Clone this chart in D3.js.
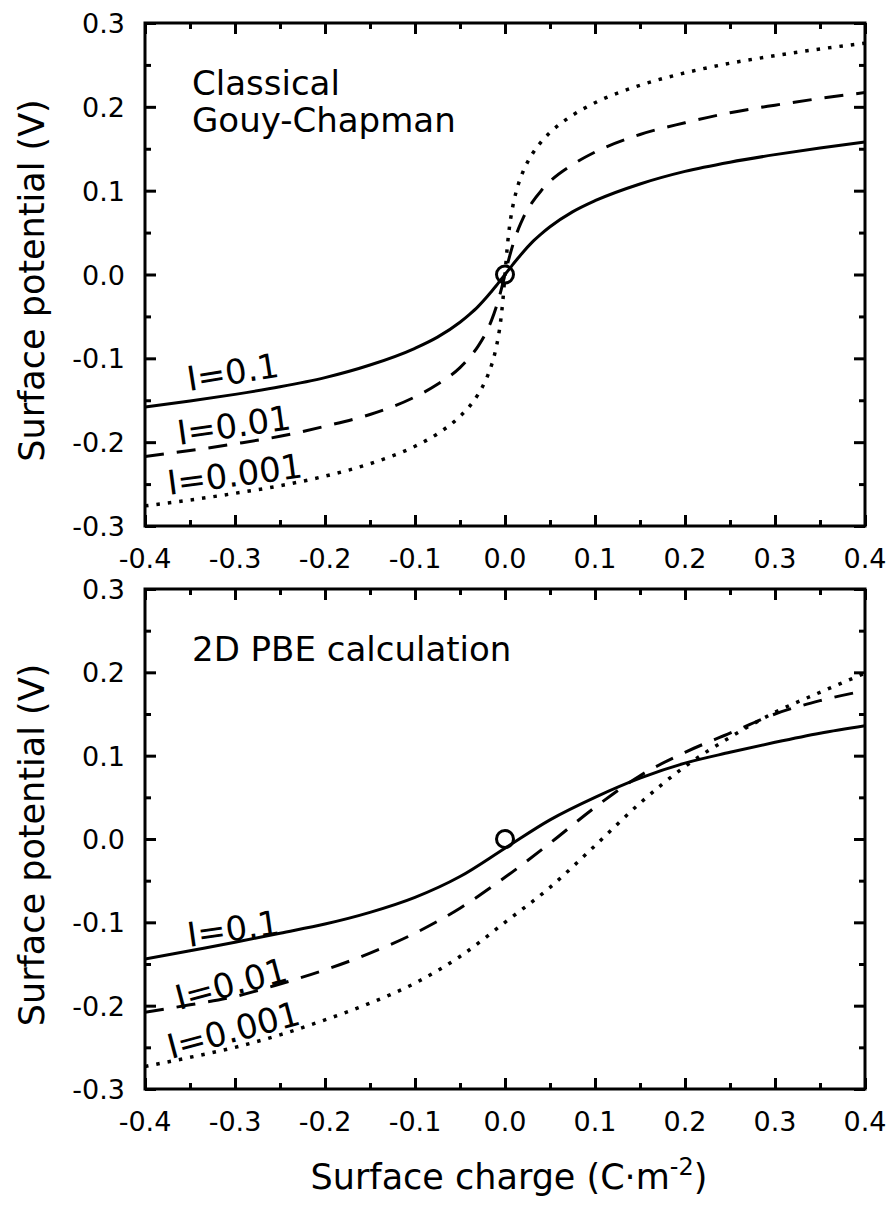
<!DOCTYPE html>
<html><head><meta charset="utf-8">
<script src="https://cdn.jsdelivr.net/npm/d3@7"></script>
<style>body{margin:0;background:#fff}svg{display:block}text{font-family:"DejaVu Sans",sans-serif;fill:#000}</style>
</head><body><svg id="c" width="889" height="1207"></svg>
<script>
// ---- data ----
const xTicks = [-0.4,-0.3,-0.2,-0.1,0.0,0.1,0.2,0.3,0.4];
const yTicks = [-0.3,-0.2,-0.1,0.0,0.1,0.2,0.3];
const seriesNames = ["I=0.1","I=0.01","I=0.001"];
// Top panel: classical Gouy-Chapman
const chargeTop = [-0.4,-0.35,-0.3,-0.25,-0.2,-0.15,-0.1,-0.075,-0.05,-0.04,-0.03,-0.02,-0.015,-0.01,-0.0075,-0.005,-0.0025,0,
  0.0025,0.005,0.0075,0.01,0.015,0.02,0.03,0.04,0.05,0.075,0.1,0.15,0.2,0.25,0.3,0.35,0.4];
const topI01 = [-0.158,-0.151,-0.143,-0.134,-0.123,-0.108,-0.088,-0.0747,-0.0569,-0.0481,-0.0383,-0.0266,-0.0202,-0.0137,-0.0103,-0.0069,-0.0035,0,
  0.0035,0.0069,0.0103,0.0137,0.0202,0.0266,0.0383,0.0481,0.0569,0.0747,0.088,0.108,0.123,0.134,0.143,0.151,0.158];
const topI001 = [-0.217,-0.210,-0.202,-0.193,-0.181,-0.167,-0.146,-0.131,-0.111,-0.0997,-0.0857,-0.0670,-0.0547,-0.0397,-0.0309,-0.0213,-0.0109,0,
  0.0109,0.0213,0.0309,0.0397,0.0547,0.0670,0.0857,0.0997,0.111,0.131,0.146,0.167,0.181,0.193,0.202,0.210,0.217];
const topI0001 = [-0.276,-0.269,-0.261,-0.252,-0.2405,-0.2257,-0.2049,-0.190,-0.1693,-0.158,-0.1432,-0.1226,-0.1082,-0.0882,-0.0747,-0.0569,-0.0324,0,
  0.0324,0.0569,0.0747,0.0882,0.1082,0.1226,0.1432,0.158,0.1693,0.190,0.2049,0.2257,0.2405,0.252,0.261,0.269,0.276];
// Bottom panel: 2D PBE calculation
const chargeBot = [-0.4,-0.35,-0.3,-0.25,-0.2,-0.15,-0.1,-0.05,0,0.05,0.1,0.15,0.2,0.25,0.3,0.35,0.4];
const botI01 = [-0.144,-0.134,-0.124,-0.113,-0.102,-0.088,-0.070,-0.045,-0.011,0.023,0.050,0.073,0.091,0.104,0.116,0.127,0.136];
const botI001 = [-0.208,-0.199,-0.189,-0.174,-0.157,-0.137,-0.113,-0.083,-0.046,-0.005,0.038,0.076,0.104,0.127,0.150,0.166,0.178];
const botI0001 = [-0.273,-0.262,-0.250,-0.235,-0.217,-0.197,-0.173,-0.141,-0.100,-0.058,-0.008,0.043,0.087,0.122,0.152,0.176,0.199];
const refPoint = [0, 0];

// ---- layout ----
const svg = d3.select("#c");
const L = 145, R = 865;
const panels = [
  {top:23, bottom:526, title:["Classical","Gouy-Chapman"], x:chargeTop, ys:[topI01,topI001,topI0001],
   labels:[{x:189,y:391,a:-9},{x:179,y:445,a:-8},{x:169,y:495,a:-7.5}]},
  {top:589, bottom:1089, title:["2D PBE calculation"], x:chargeBot, ys:[botI01,botI001,botI0001],
   labels:[{x:189,y:947,a:-8},{x:179,y:1010,a:-15},{x:171,y:1059,a:-15}]}
];
const styles = [
  {dash:null, w:3},
  {dash:"19,13", w:3},
  {dash:"3.5,8", w:3.5}
];

panels.forEach((p, pi) => {
  const x = d3.scaleLinear().domain([-0.4,0.4]).range([L,R]);
  const y = d3.scaleLinear().domain([-0.3,0.3]).range([p.bottom,p.top]);
  const g = svg.append("g");
  const clip = "clip"+pi;
  svg.append("clipPath").attr("id",clip).append("rect")
    .attr("x",L).attr("y",p.top).attr("width",R-L).attr("height",p.bottom-p.top);

  // curves
  const line = d3.line().x(d=>x(d[0])).y(d=>y(d[1])).curve(d3.curveMonotoneX);
  p.ys.forEach((vals, si) => {
    const pts = p.x.map((c,i)=>[c, vals[i]]);
    g.append("path").attr("d", line(pts)).attr("fill","none").attr("stroke","#000")
      .attr("stroke-width", styles[si].w).attr("stroke-dasharray", styles[si].dash)
      .attr("clip-path", `url(#${clip})`);
  });

  // reference point
  g.append("circle").attr("cx", x(refPoint[0])).attr("cy", y(refPoint[1])).attr("r", 8.5)
    .attr("fill","none").attr("stroke","#000").attr("stroke-width",3);

  // axes with inward ticks on all sides
  const minorX = d3.range(-0.35,0.4,0.1);
  const minorY = d3.range(-0.25,0.3,0.1);
  const major = 11, minor = 6;
  g.append("g").attr("transform",`translate(0,${p.bottom})`)
    .call(d3.axisBottom(x).tickValues(xTicks).tickSize(-major).tickFormat("")).call(s=>s.select(".domain").remove());
  g.append("g").attr("transform",`translate(0,${p.bottom})`)
    .call(d3.axisBottom(x).tickValues(minorX).tickSize(-minor).tickFormat("")).call(s=>s.select(".domain").remove());
  g.append("g").attr("transform",`translate(0,${p.top})`)
    .call(d3.axisTop(x).tickValues(xTicks).tickSize(-major).tickFormat("")).call(s=>s.select(".domain").remove());
  g.append("g").attr("transform",`translate(0,${p.top})`)
    .call(d3.axisTop(x).tickValues(minorX).tickSize(-minor).tickFormat("")).call(s=>s.select(".domain").remove());
  g.append("g").attr("transform",`translate(${L},0)`)
    .call(d3.axisLeft(y).tickValues(yTicks).tickSize(-major).tickFormat("")).call(s=>s.select(".domain").remove());
  g.append("g").attr("transform",`translate(${L},0)`)
    .call(d3.axisLeft(y).tickValues(minorY).tickSize(-minor).tickFormat("")).call(s=>s.select(".domain").remove());
  g.append("g").attr("transform",`translate(${R},0)`)
    .call(d3.axisRight(y).tickValues(yTicks).tickSize(-major).tickFormat("")).call(s=>s.select(".domain").remove());
  g.append("g").attr("transform",`translate(${R},0)`)
    .call(d3.axisRight(y).tickValues(minorY).tickSize(-minor).tickFormat("")).call(s=>s.select(".domain").remove());
  g.selectAll(".tick line").attr("stroke","#000").attr("stroke-width",3);

  g.append("rect").attr("x",L).attr("y",p.top).attr("width",R-L).attr("height",p.bottom-p.top)
    .attr("fill","none").attr("stroke","#000").attr("stroke-width",3);

  // tick labels
  g.selectAll(".xl").data(xTicks).enter().append("text")
    .attr("x",d=>x(d)).attr("y",p.bottom+42).attr("text-anchor","middle")
    .attr("font-size",27).text(d=>d.toFixed(1));
  g.selectAll(".yl").data(yTicks).enter().append("text")
    .attr("x",125).attr("y",d=>y(d)+10).attr("text-anchor","end")
    .attr("font-size",27).text(d=>d.toFixed(1));

  // y axis title
  g.append("text").attr("transform",`translate(44,${(p.top+p.bottom)/2+6}) rotate(-90)`)
    .attr("text-anchor","middle").attr("font-size",35).text("Surface potential (V)");

  // panel title
  p.title.forEach((t,i)=>{
    g.append("text").attr("x",192).attr("y",p.top+72+i*37).attr("font-size",34).text(t);
  });

  // series labels
  p.labels.forEach((lb,i)=>{
    g.append("text").attr("transform",`translate(${lb.x},${lb.y}) rotate(${lb.a})`)
      .attr("font-size",34).text(seriesNames[i]);
  });
});

// x axis title
const xt = svg.append("text").attr("x",(L+R)/2+4).attr("y",1189).attr("text-anchor","middle").attr("font-size",35);
xt.append("tspan").text("Surface charge (C·m");
xt.append("tspan").attr("dy",-14).attr("font-size",24).text("-2");
xt.append("tspan").attr("dy",14).text(")");
</script></body></html>
